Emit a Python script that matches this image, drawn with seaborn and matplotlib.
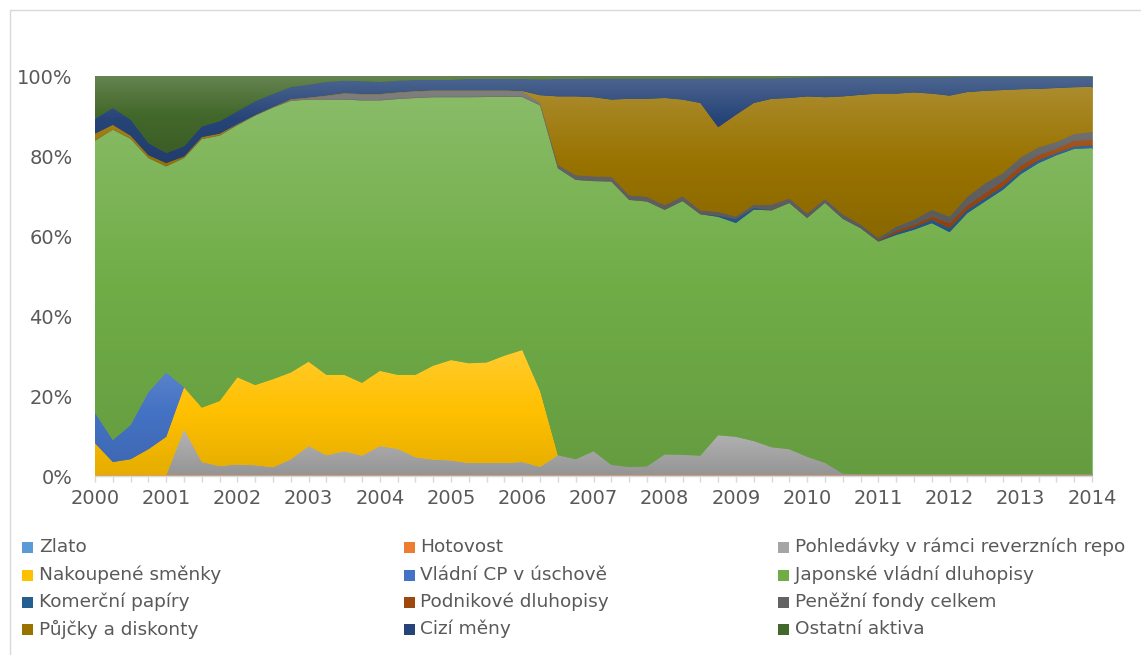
import numpy as np
import matplotlib
matplotlib.use("Agg")
import matplotlib.pyplot as plt
import matplotlib.colors as mcolors
from matplotlib.path import Path
from matplotlib.patches import Rectangle
from matplotlib.lines import Line2D
from matplotlib.ticker import FixedLocator, MultipleLocator, FuncFormatter
import seaborn as sns

# ---- data: quarterly balance-sheet structure, share of total assets (%) ----
quarters = [2000 + 0.25 * i for i in range(57)]          # 2000Q1 ... 2014Q1
year_ticks = list(range(2000, 2015))
pct_ticks = [0, 20, 40, 60, 80, 100]

zlato = [0.05] * 57
hotovost = [0.15] * 57
pohledavky_repo = [
    0, 0, 0, 0, 0, 11.5, 3.3, 2.3, 2.7, 2.5, 2.0, 4.0, 7.3, 5.0, 6.0, 4.9,
    7.3, 6.6, 4.5, 3.9, 3.7, 3.05, 3.05, 3.05, 3.3, 2.1, 5.0, 4.0, 6.0, 2.6,
    2.05, 2.2, 5.2, 5.1, 4.9, 10.0, 9.6, 8.55, 7.0, 6.5, 4.6, 3.1, 0.4, 0.2,
    0.2, 0.2, 0.2, 0.2, 0.2, 0.2, 0.2, 0.2, 0.2, 0.2, 0.2, 0.2, 0.2]
nakoupene_smenky = [
    8.0, 3.3, 4.0, 6.5, 9.6, 10.5, 13.6, 16.25, 21.8, 20.05, 22.05, 21.7,
    21.1, 20.1, 19.1, 18.2, 18.8, 18.5, 20.6, 23.5, 25.1, 24.95, 25.15,
    26.85, 28.0, 19.0] + [0] * 31
vladni_cp = [7.6, 5.5, 8.55, 14.3, 16.1] + [0] * 52
japonske_dluhopisy = [
    68.0, 77.6, 71.55, 58.5, 51.5, 57.3, 67.15, 66.35, 63.0, 67.35, 67.95,
    67.9, 65.5, 68.8, 68.8, 70.6, 67.6, 68.95, 69.2, 67.1, 65.7, 66.5, 66.35,
    64.65, 63.25, 71.4, 71.8, 69.9, 67.6, 70.9, 66.85, 66.3, 61.2, 63.5,
    60.4, 54.6, 53.45, 57.85, 59.2, 61.55, 59.7, 65.0, 63.7, 61.5, 58.2,
    59.8, 61.1, 62.75, 60.5, 65.25, 68.2, 71.1, 75.0, 77.75, 79.7, 81.3, 81.5]
komercni_papiry = [0.05] * 35 + [0.3, 1.0, 0.4] + [0.1] * 7 + [
    0.5, 0.6, 0.85, 1.0, 0.85, 0.8, 0.8, 0.8, 0.75, 0.55, 0.6, 0.7]
podnikove_dluhopisy = [0.05] * 44 + [0.1] + [
    0.6, 0.6, 0.8, 1.25, 1.1, 1.25, 1.3, 1.3, 1.2, 1.05, 1.4, 1.3]
penezni_fondy = [0] * 11 + [
    0.2, 0.3, 0.8, 1.4, 1.4, 1.4, 1.45, 1.5, 1.5, 1.5, 1.5, 1.45, 1.45, 1.2,
    0.5, 0.8, 1.1, 1.1, 1.1, 1.1, 1.1, 1.1, 1.1, 0.9, 0.9, 0.6, 0.8, 1.3,
    1.0, 1.0, 0.8, 1.0, 0.8, 0.7, 1.0, 1.3, 1.7, 1.65, 2.2, 2.5, 2.05, 2.1,
    2.0, 1.7, 1.7, 2.0]
pujcky_diskonty = [
    1.7, 1.1, 0.7, 0.6, 0.75, 0.3, 0.4, 0.4, 0.2, 0.1, 0.1] + [0.15] * 13 + [
    0.2, 1.95, 17.1, 19.7, 19.8, 19.3, 24.1, 24.5, 26.8, 24.2, 26.85, 21.15,
    25.4, 25.4, 26.45, 25.1, 29.25, 25.45, 29.45, 32.35, 36.1, 33.2, 31.8,
    29.0, 30.2, 26.1, 23.05, 20.75, 17.0, 14.6, 13.5, 11.7, 11.3]
cizi_meny = [
    3.7, 4.2, 4.0, 3.05, 2.5, 2.5, 2.65, 3.1, 3.2, 3.4, 3.2, 2.95, 3.15, 3.35,
    3.05, 3.15, 2.95, 2.85, 2.75, 2.55, 2.55, 2.8, 2.8, 2.8, 3.0, 3.9, 4.35,
    4.35, 4.6, 5.2, 5.0, 5.0, 4.8, 5.2, 6.05, 12.2, 9.1, 6.15, 5.1, 5.0, 4.7,
    5.0, 4.8, 4.4, 4.1, 4.1, 3.8, 4.1, 4.6, 3.8, 3.5, 3.3, 3.1, 3.0, 2.8,
    2.6, 2.5]
ostatni_aktiva = [
    10.7, 8.0, 10.9, 16.75, 19.25, 17.6, 12.6, 11.3, 8.8, 6.3, 4.5, 2.8, 2.2,
    1.5, 1.2, 1.3, 1.5, 1.2, 1.0, 1.0, 1.0, 0.75, 0.75, 0.75, 0.75, 0.9,
    0.75, 0.75, 0.7, 0.7, 0.7, 0.7, 0.7, 0.7, 0.7, 0.6, 0.6, 0.6, 0.6, 0.5,
    0.4, 0.3, 0.3, 0.3, 0.3, 0.3, 0.3, 0.3, 0.3, 0.2, 0.2, 0.2, 0.2, 0.2,
    0.2, 0.2, 0.2]

series_names = [
    "Zlato", "Hotovost", "Pohledávky v rámci reverzních repo",
    "Nakoupené směnky", "Vládní CP v úschově", "Japonské vládní dluhopisy",
    "Komerční papíry", "Podnikové dluhopisy", "Peněžní fondy celkem",
    "Půjčky a diskonty", "Cizí měny", "Ostatní aktiva"]
series_values = [
    zlato, hotovost, pohledavky_repo, nakoupene_smenky, vladni_cp,
    japonske_dluhopisy, komercni_papiry, podnikove_dluhopisy, penezni_fondy,
    pujcky_diskonty, cizi_meny, ostatni_aktiva]
series_colors = [
    "#5B9BD5", "#ED7D31", "#A5A5A5", "#FFC000", "#4472C4", "#70AD47",
    "#255E91", "#9E480E", "#636363", "#997300", "#264478", "#43682B"]

# 100 % stacking: each quarter scaled to a total of 100
values = np.array(series_values, dtype=float)
shares = values / values.sum(axis=0) * 100

# ---- figure ----
W, H = 1141, 655
sns.set_theme(style="white")
plt.rcParams["font.family"] = ["DejaVu Sans"]
text_color = "#595959"
axis_grey = "#D9D9D9"

fig = plt.figure(figsize=(W / 100, H / 100), dpi=100)
fig.patch.set_facecolor("white")
ax = fig.add_axes([95 / W, 1 - 476 / H, (1092 - 95) / W, (476 - 76) / H])

polys = ax.stackplot(quarters, *shares, colors=series_colors,
                     labels=series_names, linewidth=0.4)
for poly, col in zip(polys, series_colors):
    poly.set_edgecolor(col)


def gradient_fill(axis, coll, color):
    """Overlay a vertical light-to-dark gradient clipped to an area."""
    paths = coll.get_paths()
    if not paths:
        return
    path = Path.make_compound_path(*paths)
    v = path.vertices
    y0, y1 = v[:, 1].min(), v[:, 1].max()
    if y1 - y0 < 1e-6:
        return
    base = np.array(mcolors.to_rgb(color))
    top = base + (1 - base) * 0.18
    bot = base * 0.90
    t = np.linspace(0, 1, 256)[:, None]
    rgb = np.where(t < 0.5,
                   bot + (base - bot) * (t / 0.5),
                   base + (top - base) * ((t - 0.5) / 0.5))
    im = axis.imshow(rgb[:, None, :], extent=[v[:, 0].min(), v[:, 0].max(), y0, y1],
                     origin="lower", aspect="auto", interpolation="bilinear",
                     zorder=coll.get_zorder() + 0.01)
    im.set_clip_path(path, axis.transData)


for poly, col in zip(polys, series_colors):
    gradient_fill(ax, poly, col)

ax.set_xlim(2000, 2014)
ax.set_ylim(0, 100)
ax.set_aspect("auto")

ax.xaxis.set_major_locator(FixedLocator(year_ticks))
ax.xaxis.set_minor_locator(MultipleLocator(0.25))
ax.set_xticklabels([str(y) for y in year_ticks])
ax.yaxis.set_major_locator(FixedLocator(pct_ticks))
ax.yaxis.set_major_formatter(FuncFormatter(lambda v, _: f"{v:.0f}%"))

ax.tick_params(axis="x", which="both", direction="out", length=4.5, width=1,
               color=axis_grey, bottom=True, labelsize=14, labelcolor=text_color,
               pad=5)
ax.tick_params(axis="y", length=0, labelsize=14, labelcolor=text_color, pad=16)

for side in ["top", "right", "left"]:
    ax.spines[side].set_visible(False)
ax.spines["bottom"].set_color(axis_grey)
ax.spines["bottom"].set_linewidth(1)
ax.grid(False)

# ---- legend: three columns, filled row by row ----
col_sq_x = [22, 404, 778]
col_txt_x = [39, 420, 795]
row_y = [547, 575, 602, 629]
sq = 11
for k, (name, col) in enumerate(zip(series_names, series_colors)):
    r, c = divmod(k, 3)
    fig.patches.append(Rectangle((col_sq_x[c] / W, 1 - (row_y[r] + sq / 2) / H),
                                 sq / W, sq / H, transform=fig.transFigure,
                                 facecolor=col, edgecolor="none"))
    fig.text(col_txt_x[c] / W, 1 - row_y[r] / H, name, ha="left", va="center",
             fontsize=13.3, color=text_color)

# ---- chart frame ----
fig.add_artist(Line2D([10 / W, 10 / W], [0, 1 - 10 / H], transform=fig.transFigure,
                      color=axis_grey, linewidth=1))
fig.add_artist(Line2D([10 / W, 1], [1 - 10 / H, 1 - 10 / H], transform=fig.transFigure,
                      color=axis_grey, linewidth=1))

fig.savefig("out.png", dpi=100, facecolor="white")
